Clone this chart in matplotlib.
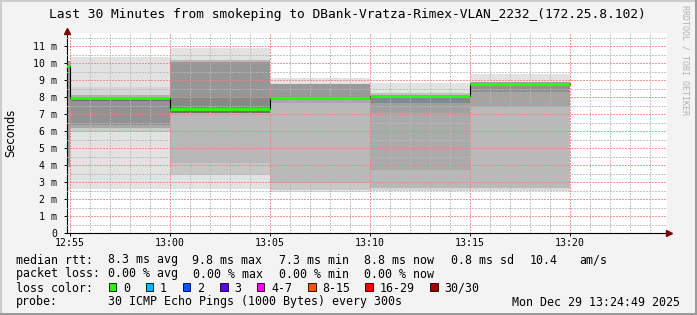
import matplotlib
matplotlib.use("Agg")
import matplotlib.pyplot as plt
from matplotlib.patches import Rectangle

W, H = 697, 315

# time axis in minutes since 12:00
x_start, x_end = 54 + 49 / 60, 84 + 49 / 60      # 12:54:49 .. 13:24:49
step_starts = [50, 55, 60, 65, 70, 75]            # 5 minute steps
step_len = 5
median_ms = [9.8, 7.92, 7.27, 7.92, 8.04, 8.78]

# smoke bands per step (bottom -> top edges, ms) with their grey shade
smoke_edges = [
    [2.53, 3.9, 10.14],
    [2.59, 5.96, 6.2, 6.35, 7.78, 7.92, 8.1, 8.6, 10.38],
    [2.57, 3.41, 4.1, 7.06, 7.18, 7.92, 10.08, 10.18, 10.86],
    [2.43, 2.53, 2.92, 7.63, 7.84, 7.98, 8.76, 9.1],
    [2.45, 2.63, 3.7, 7.04, 7.63, 7.94, 8.1, 8.22, 8.8],
    [2.49, 2.63, 7.43, 8.31, 8.65, 8.9, 9.35],
]
smoke_shades = [
    ["#e0e0e0", "#a0a0a0"],
    ["#e2e2e2", "#cacaca", "#a8a8a8", "#929292", "#6e6e6e", "#b0b0b0", "#d6d6d6", "#e2e2e2"],
    ["#e2e2e2", "#c6c6c6", "#b8b8b8", "#707070", "#888888", "#969696", "#b8b8b8", "#e2e2e2"],
    ["#e2e2e2", "#c8c8c8", "#b9b9b9", "#a8a8a8", "#777777", "#999999", "#e2e2e2"],
    ["#d4d4d4", "#b8b8b8", "#aaaaaa", "#a0a0a0", "#888888", "#808080", "#c0c0c0", "#e2e2e2"],
    ["#d8d8d8", "#b9b9b9", "#a4a4a4", "#909090", "#a0a0a0", "#e2e2e2"],
]

major_ticks = [55, 60, 65, 70, 75, 80]
major_labels = ["12:55", "13:00", "13:05", "13:10", "13:15", "13:20"]
y_ticks = list(range(0, 12))
y_labels = ["0"] + [f"{v} m" for v in range(1, 12)]

title = "Last 30 Minutes from smokeping to DBank-Vratza-Rimex-VLAN_2232_(172.25.8.102)"
rtt_items = ["8.3 ms avg", "9.8 ms max", "7.3 ms min", "8.8 ms now", "0.8 ms sd", "10.4", "am/s"]
rtt_x = [107.6, 192.4, 279, 364.4, 451, 530, 579]
loss_items = ["0.00 % avg", "0.00 % max", "0.00 % min", "0.00 % now"]
loss_x = [107.6, 193.3, 279, 364.4]
loss_labels = ["0", "1", "2", "3", "4-7", "8-15", "16-29", "30/30"]
loss_colors = ["#26ff00", "#00b8ff", "#0059ff", "#5e00ff", "#ff00ff", "#ff5500", "#ff0000", "#a00000"]
loss_sq_x = [108.9, 145.8, 182.7, 220.4, 256.9, 308, 365.3, 430.2]
probe_text = "30 ICMP Echo Pings (1000 Bytes) every 300s"
stamp = "Mon Dec 29 13:24:49 2025"

MONO = "DejaVu Sans Mono"


def fx(px):
    return px / W


def fy(py):
    return 1 - py / H


fig = plt.figure(figsize=(W / 100, H / 100), dpi=100, facecolor="#f3f3f3")
ax = fig.add_axes([fx(66.5), fy(233), 600 / W, 200 / H])
ax.set_facecolor("white")

for s, edges, shades in zip(step_starts, smoke_edges, smoke_shades):
    for lo, hi, c in zip(edges[:-1], edges[1:], shades):
        ax.bar(s, hi - lo, bottom=lo, width=step_len, align="edge",
               color=c, linewidth=0, zorder=1)

# median: black step connectors + green level
xs = step_starts + [step_starts[-1] + step_len]
ax.plot(xs, median_ms + [median_ms[-1]], drawstyle="steps-post",
        color="black", lw=0.8, zorder=3)
ax.hlines(median_ms, step_starts, [s + step_len for s in step_starts],
          color="#26ff00", lw=2.0, zorder=4)

ax.set_xlim(x_start, x_end)
ax.set_ylim(0, 200 / 17)
ax.set_xticks(major_ticks)
ax.set_xticklabels(major_labels)
ax.set_xticks(range(55, 85), minor=True)
ax.set_yticks(y_ticks)
ax.set_yticklabels(y_labels)
ax.set_yticks([v + 0.5 for v in range(0, 12)], minor=True)

ax.set_axisbelow(False)
ax.grid(which="major", color="#f08080", alpha=0.8, lw=1.0, ls=(0, (1, 1)),
        antialiased=False)
ax.grid(which="minor", color="#b8b8b8", alpha=0.8, lw=1.0, ls=(0, (1, 1)),
        antialiased=False)

ax.tick_params(which="major", length=2, width=0.7, pad=1.5, labelsize=7.1)
ax.tick_params(which="minor", length=0)
for lab in ax.get_xticklabels() + ax.get_yticklabels():
    lab.set_fontfamily(MONO)
ax.tick_params(axis="y", pad=4.5)

for side in ["top", "right"]:
    ax.spines[side].set_visible(False)
for side in ["left", "bottom"]:
    ax.spines[side].set_linewidth(0.8)

ax.plot([1.005], [0], marker=">", markersize=4, color="#800000",
        transform=ax.transAxes, clip_on=False, zorder=5)
ax.plot([0], [1.01], marker="^", markersize=4, color="#800000",
        transform=ax.transAxes, clip_on=False, zorder=5)

fig.text(fx(10.5), fy(132.5), "Seconds", rotation=90, ha="center", va="center",
         fontsize=8.3, family="DejaVu Sans")
fig.text(fx(347), fy(18.3), title, ha="center", va="baseline",
         fontsize=9.3, family=MONO)
fig.text(fx(685), fy(5), "RRDTOOL / TOBI OETIKER", rotation=270, ha="center",
         va="top", fontsize=6, family=MONO, color="#b0b0b0")

# legend block
fs = 8.35
rows = [263.5, 277.5, 291.5, 305.5]
fig.text(fx(16), fy(rows[0]), "median rtt:", fontsize=fs, family=MONO, va="baseline")
for t, x in zip(rtt_items, rtt_x):
    fig.text(fx(x), fy(rows[0]), t, fontsize=fs, family=MONO, va="baseline")
fig.text(fx(16), fy(rows[1]), "packet loss:", fontsize=fs, family=MONO, va="baseline")
for t, x in zip(loss_items, loss_x):
    fig.text(fx(x), fy(rows[1]), t, fontsize=fs, family=MONO, va="baseline")
fig.text(fx(16), fy(rows[2]), "loss color:", fontsize=fs, family=MONO, va="baseline")
for lab, c, x in zip(loss_labels, loss_colors, loss_sq_x):
    fig.patches.append(Rectangle((fx(x), fy(291)), 7.5 / W, 8 / H, transform=fig.transFigure,
                                 facecolor=c, edgecolor="black", lw=0.6))
    fig.text(fx(x + 14.2), fy(rows[2]), lab, fontsize=fs, family=MONO, va="baseline")
fig.text(fx(16), fy(rows[3]), "probe:", fontsize=fs, family=MONO, va="baseline")
fig.text(fx(107.6), fy(rows[3]), probe_text, fontsize=fs, family=MONO, va="baseline")
fig.text(fx(680), fy(rows[3]), stamp, fontsize=fs, family=MONO, va="baseline", ha="right")

# 3d frame
fig.add_artist(plt.Line2D([0, 1], [fy(0.5)] * 2, color="#cbcbcb", lw=1.4, transform=fig.transFigure))
fig.add_artist(plt.Line2D([fx(0.5)] * 2, [0, 1], color="#cbcbcb", lw=1.4, transform=fig.transFigure))
fig.add_artist(plt.Line2D([0, 1], [fy(314)] * 2, color="#999999", lw=1.4, transform=fig.transFigure))
fig.add_artist(plt.Line2D([fx(696)] * 2, [0, 1], color="#999999", lw=1.4, transform=fig.transFigure))

fig.savefig("out.png", dpi=100, facecolor=fig.get_facecolor())
